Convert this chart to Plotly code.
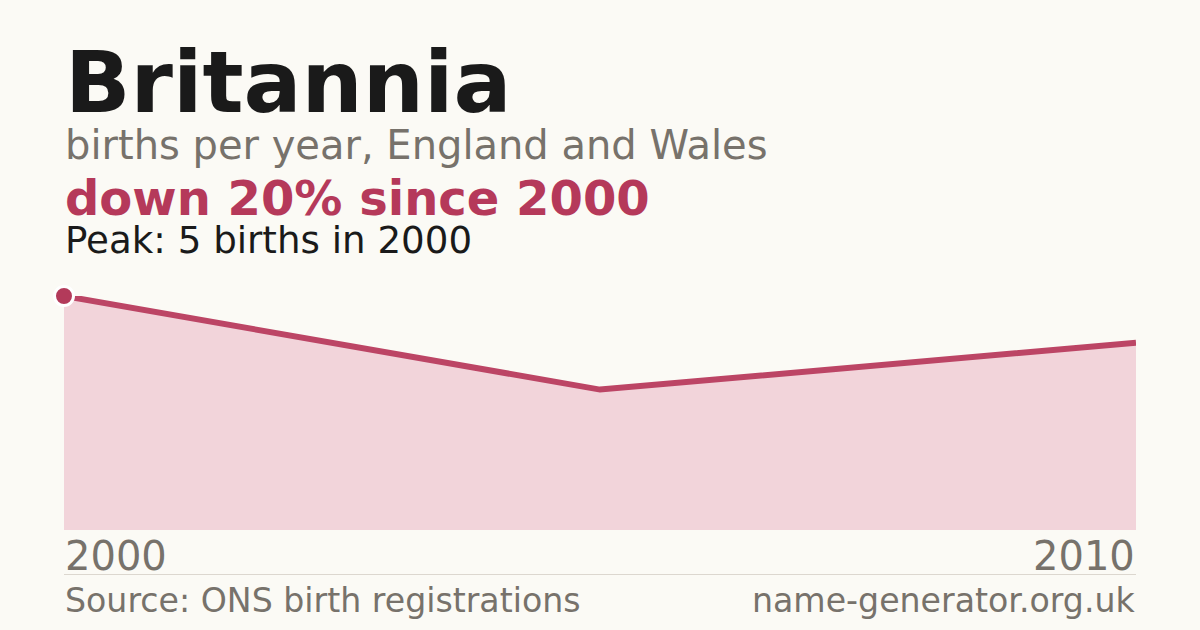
import plotly.graph_objects as go

years = [2000, 2005, 2010]
births = [5, 3, 4]
title = "Britannia"
subtitle = "births per year, England and Wales"
headline = "down 20% since 2000"
peak_note = "Peak: 5 births in 2000"
source = "Source: ONS birth registrations"
site = "name-generator.org.uk"

W, H = 1200, 630
L, R, T, B = 64, 64, 296, 100
PH = H - T - B

def py(px):
    return (H - B - px) / PH

BG = "#fbfaf5"
ACC = "#b5395a"
GREY = "#77726b"
FONT = "DejaVu Sans"

fig = go.Figure()
fig.add_trace(go.Scatter(
    x=years, y=births, mode="lines", fill="tozeroy",
    fillcolor="#f2d4da", line=dict(color="#bc4565", width=6),
    hoverinfo="skip", cliponaxis=False,
))
fig.add_trace(go.Scatter(
    x=[years[0]], y=[births[0]], mode="markers",
    marker=dict(color="#b33a5a", size=19, line=dict(color="#ffffff", width=3)),
    hoverinfo="skip", cliponaxis=False,
))

def ann(text, x, xanchor, ybase, size, color, bold=False):
    yc = ybase - 0.346 * size
    fig.add_annotation(
        text=f"<b>{text}</b>" if bold else text,
        xref="paper", yref="paper", x=x, y=py(yc),
        xanchor=xanchor, yanchor="middle", showarrow=False,
        font=dict(family=FONT, size=size, color=color), borderpad=0,
    )

ann(title, 0, "left", 112, 86, "#1a1a1a", bold=True)
ann(subtitle, 0, "left", 159, 40, GREY)
ann(headline, 0, "left", 215, 48, ACC, bold=True)
ann(peak_note, 0, "left", 253, 37.2, "#1a1a1a")
ann(str(years[0]), 0, "left", 570, 40, GREY)
ann(str(years[-1]), 1, "right", 570, 40, GREY)
ann(source, 0, "left", 612, 33.2, GREY)
ann(site, 1, "right", 612, 33.2, GREY)

fig.add_shape(type="line", xref="paper", yref="paper", x0=0, x1=1,
              y0=py(574.5), y1=py(574.5), line=dict(color="#dcd7cf", width=1))

fig.update_layout(
    width=W, height=H, margin=dict(l=L, r=R, t=T, b=B),
    paper_bgcolor=BG, plot_bgcolor=BG, showlegend=False,
    xaxis=dict(range=[years[0], years[-1]], visible=False, fixedrange=True),
    yaxis=dict(range=[0, max(births)], visible=False, fixedrange=True),
)
fig.write_html(
    "out.html",
    config={"displayModeBar": False},
    post_script="document.body.style.margin='0';document.body.style.background='#fbfaf5';",
)
